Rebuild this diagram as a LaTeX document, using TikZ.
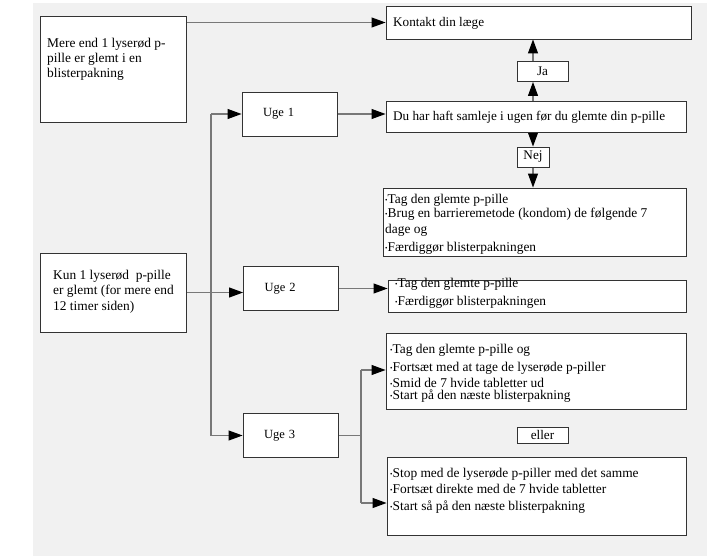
\documentclass[tikz,border=0pt]{standalone}
\usepackage{fontspec}
\setmainfont{Liberation Serif}
\usepackage{xcolor}
\usepackage{tikz}
\usetikzlibrary{arrows.meta}
\definecolor{bggray}{RGB}{241,241,241}
\definecolor{edgegray}{RGB}{120,120,120}
\tikzstyle{box}=[rectangle,fill=white,draw=black!80,line width=0.9pt,inner sep=0pt]
\tikzstyle{tag}=[box,minimum height=20pt,font=\fontsize{13.2}{15}\selectfont]
\tikzstyle{week}=[box,text width=53pt,inner xsep=21pt,minimum height=44pt,align=left,font=\fontsize{12.5}{15}\selectfont]
\tikzstyle{txt}=[inner sep=0pt,anchor=base west,font=\fontsize{13.2}{15}\selectfont]
\tikzstyle{para}=[inner sep=0pt,anchor=north west,align=left,font=\fontsize{13.4}{15}\selectfont]
\tikzstyle{link}=[-,draw=edgegray,line width=1.1pt]
\tikzstyle{inarrow}=[-{Triangle[length=14pt,width=10pt,color=black]},draw=edgegray,line width=1.1pt]
\pgfdeclarelayer{edgelayer}
\pgfdeclarelayer{nodelayer}
\pgfdeclarelayer{bglayer}
\pgfsetlayers{bglayer,edgelayer,nodelayer,main}
\newcommand\bul{\raisebox{1pt}{\fontsize{7}{7}\selectfont•}}

\begin{document}
\begin{tikzpicture}[x=1pt,y=-1pt]
	\useasboundingbox (0,0) rectangle (710,559);
	\begin{pgfonlayer}{bglayer}
		\fill [bggray] (33,3) rectangle (707,556);
	\end{pgfonlayer}
	\begin{pgfonlayer}{nodelayer}
		% left column
		\node [style=box, minimum width=146, minimum height=106] (mere) at (113,69) {};
		\node [style=para] (meretxt) at (47,36.5) {\strut Mere end 1 lyserød p-\\pille er glemt i en\\blisterpakning};
		\node [style=box, minimum width=146, minimum height=79] (kun) at (113,292.5) {};
		\node [style=para] (kuntxt) at (53,268.5) {\strut Kun 1 lyserød\ \ p-pille\\er glemt (for mere end\\[1pt]12 timer siden)};

		% weeks
		\node [style=week] (uge1) at (289.5,114) {Uge 1};
		\node [style=week] (uge2) at (291,288.5) {Uge 2};
		\node [style=week] (uge3) at (290.5,435.5) {Uge 3};

		% right column
		\node [style=box, minimum width=305, minimum height=33] (kontakt) at (538.5,22.5) {};
		\node [style=txt] (kontakttxt) at (393,27) {Kontakt din læge};
		\node [style=tag, minimum width=51] (ja) at (542.5,71.5) {Ja};
		\node [style=box, minimum width=300, minimum height=31] (du) at (536,116.5) {};
		\node [style=txt] (dutxt) at (393,121) {Du har haft samleje i ugen før du glemte din p-pille};
		\node [style=tag, minimum width=32] (nej) at (533,157) {Nej};
		\node [style=box, minimum width=303, minimum height=68] (tag1) at (534.5,222) {};
		\node [style=para] (tag1txt) at (385,192.5) {\strut\bul Tag den glemte p-pille\\[-1pt]
			\bul Brug en barrieremetode (kondom) de følgende 7\\[1pt]
			dage og\\[3pt]
			\bul Færdiggør blisterpakningen};
		\node [style=box, minimum width=298, minimum height=32] (tag2) at (537,296) {};
		\node [style=para] (tag2txt) at (395,276.5) {\strut\bul Tag den glemte p-pille\\[3pt]
			\bul Færdiggør blisterpakningen};
		\node [style=box, minimum width=300, minimum height=76] (boxa) at (536,371) {};
		\node [style=para] (boxatxt) at (390,342.5) {\strut\bul Tag den glemte p-pille og\\[3pt]
			\bul Fortsæt med at tage de lyserøde p-piller\\[1pt]
			\bul Smid de 7 hvide tabletter ud\\[-2.5pt]
			\bul Start på den næste blisterpakning};
		\node [style=tag, minimum width=51, minimum height=16] (eller) at (542.5,435) {eller};
		\node [style=box, minimum width=299, minimum height=78] (boxb) at (536.5,496) {};
		\node [style=para] (boxbtxt) at (390,466.5) {\strut\bul Stop med de lyserøde p-piller med det samme\\[1pt]
			\bul Fortsæt direkte med de 7 hvide tabletter\\[2pt]
			\bul Start så på den næste blisterpakning};

		\coordinate (trunk) at (211,292);
		\coordinate (forka) at (361,370);
		\coordinate (forkb) at (361,503);
	\end{pgfonlayer}
	\begin{pgfonlayer}{edgelayer}
		\draw [style=inarrow] (mere.east |- kontakt.west) to (kontakt.west);
		\draw [style=inarrow] (du.north -| nej) to (ja.south -| nej);
		\draw [style=inarrow] (ja.north -| nej) to (kontakt.south -| nej);
		\draw [style=inarrow] (du.south -| nej) to (nej.north);
		\draw [style=inarrow] (nej.south) to (tag1.north -| nej);
		\draw [style=inarrow] (uge1.east) to (uge1.east -| du.west);
		\draw [style=inarrow] (kun.east) to (kun.east -| uge2.west);
		\draw [style=link] (trunk |- uge1) to (trunk |- uge3);
		\draw [style=inarrow] (trunk |- uge1) to (uge1.west);
		\draw [style=inarrow] (trunk |- uge3) to (uge3.west);
		\draw [style=inarrow] (uge2.east) to (uge2.east -| tag2.west);
		\draw [style=link] (uge3.east) to (uge3.east -| forka);
		\draw [style=link] (forka) to (forkb);
		\draw [style=inarrow] (forka) to (forka -| boxa.west);
		\draw [style=inarrow] (forkb) to (forkb -| boxb.west);
	\end{pgfonlayer}
\end{tikzpicture}
\end{document}
